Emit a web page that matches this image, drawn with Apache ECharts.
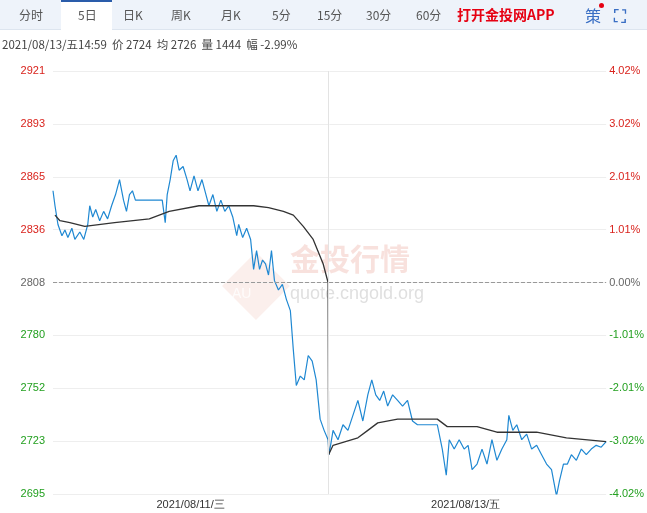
<!DOCTYPE html>
<html><head><meta charset="utf-8">
<script src="https://cdn.jsdelivr.net/npm/echarts@6/dist/echarts.min.js"></script>
<style>
body{margin:0;font-family:"Noto Sans CJK SC",sans-serif;}
#c{position:absolute;left:0;top:0;width:647px;height:513px;}
#bar{position:absolute;left:0;top:0;width:647px;height:29px;background:#eef3fa;border-bottom:1px solid #dde5ef;font-size:12px;color:#555;}
#bar span{position:absolute;top:6px;}
#sel{position:absolute;left:61px;top:0;width:51px;height:30px;background:#fff;border-top:2px solid #2a5caa;box-sizing:border-box;}
#info{position:absolute;left:2px;top:36px;font-size:11.5px;color:#444;}
</style></head><body>
<div id="c"></div>
<div id="bar"><div id="sel"></div>
<span style="left:19px">分时</span><span style="left:78px">5日</span><span style="left:123px">日K</span><span style="left:171px">周K</span><span style="left:221px">月K</span><span style="left:272px">5分</span><span style="left:317px">15分</span><span style="left:366px">30分</span><span style="left:416px">60分</span>
<span style="left:457px;top:4px;color:#e60012;font-weight:bold;font-size:14px">打开金投网APP</span>
<span style="left:585px;top:3px;color:#3a6fc4;font-size:16px">策</span><span style="left:599px;top:3px;width:5px;height:5px;border-radius:3px;background:#e60012"></span>
<span style="left:614px;top:2px;color:#3a6fc4;font-size:17px;font-weight:bold">⛶</span></div>
<div id="info">2021/08/13/五14:59 &nbsp;价 2724 &nbsp;均 2726 &nbsp;量 1444 &nbsp;幅 -2.99%</div>
<script>
const base = 2808;
const yTicks = [2695, 2723, 2752, 2780, 2808, 2836, 2865, 2893, 2921];
const dayLabels = ['2021/08/11/三', '2021/08/13/五'];
const priceT = [0,2,5,9,12,15,19,22,27,31,35,37,40,43,47,51,55,59,63,67,71,74,77,80,83,87,110,112,113,115,118,121,124,127,131,135,138,142,146,150,154,157,161,165,169,173,177,181,185,187,191,195,199,202,205,208,211,214,217,220,223,227,231,235,239,242,245,249,253,257,261,265,269,273,277,278,282,287,292,297,302,307,312,317,321,325,329,333,337,342,347,352,357,362,367,387,392,396,399,404,409,414,418,422,427,432,437,442,447,452,457,459,463,467,472,477,482,487,492,497,502,507,510,514,518,522,527,532,537,542,547,552,557];
const price = [2857,2849,2839,2833,2836,2832,2837,2831,2835,2831,2839,2849,2843,2847,2841,2846,2842,2849,2855,2863,2852,2846,2855,2857,2852,2852,2852,2844,2840,2855,2863,2873,2876,2868,2870,2863,2857,2865,2857,2863,2855,2849,2855,2846,2852,2846,2849,2843,2833,2839,2832,2837,2831,2815,2825,2815,2820,2818,2812,2825,2809,2804,2807,2799,2793,2772,2753,2758,2756,2769,2766,2756,2735,2729,2724,2716,2729,2724,2732,2729,2737,2745,2734,2748,2756,2748,2745,2750,2742,2748,2745,2742,2745,2734,2732,2732,2719,2705,2724,2719,2724,2719,2721,2708,2711,2719,2711,2724,2713,2719,2724,2737,2729,2732,2724,2727,2719,2721,2716,2711,2708,2694,2702,2711,2711,2716,2713,2719,2716,2719,2721,2720,2723];
const avgT = [2,7,17,32,62,97,117,147,182,202,217,232,242,252,262,272,277,277.5,282,307,317,327,347,387,397,427,447,487,517,557];
const avg = [2844,2841,2840,2838,2840,2842,2846,2849,2849,2849,2848,2846,2844,2838,2831,2818,2808,2716,2721,2725,2729,2733,2735,2735,2731,2731,2728,2728,2725,2723];
const pct = v => ((v - base) / base * 100).toFixed(2) + '%';
const col = v => v > base + 1 ? '#d9231d' : (v < base - 1 ? '#23a020' : '#666');
const chart = echarts.init(document.getElementById('c'));
const yCommon = {type:'value',min:2695,max:2921,interval:28.25,axisLine:{show:false},axisTick:{show:false}};
chart.setOption({
  animation:false,
  grid:{left:53,right:37,top:71,bottom:19},
  xAxis:{type:'value',min:0,max:557,interval:138.5,axisLine:{show:false},axisTick:{show:false},splitLine:{show:false},
    axisLabel:{color:'#333',fontSize:11,margin:5,formatter:v=>Math.abs(v-138.5)<1?dayLabels[0]:(Math.abs(v-415.5)<1?dayLabels[1]:''),showMinLabel:false,showMaxLabel:false}},
  yAxis:[Object.assign({},yCommon,{position:'left',splitLine:{lineStyle:{color:'#eeeeee'}},
      axisLabel:{fontSize:11,margin:8,formatter:v=>String(yTicks.reduce((a,b)=>Math.abs(b-v)<Math.abs(a-v)?b:a)),color:v=>col(v)}}),
    Object.assign({},yCommon,{position:'right',splitLine:{show:false},axisLabel:{fontSize:11,margin:3,formatter:v=>pct(v),color:v=>col(v)}})],
  graphic:[
    {type:'text',left:290,top:244,style:{text:'金投行情',fill:'rgba(225,120,100,0.22)',font:'bold 30px "Noto Sans CJK SC"'}},
    {type:'text',left:290,top:285,style:{text:'quote.cngold.org',fill:'rgba(150,150,150,0.3)',font:'18px sans-serif'}},
    {type:'rect',left:222,top:252,rotation:Math.PI/4,shape:{width:48,height:48},style:{fill:'rgba(225,120,100,0.12)'}},
    {type:'text',left:232,top:287,style:{text:'AU',fill:'rgba(255,255,255,0.8)',font:'14px sans-serif'}}
  ],
  series:[
    {type:'line',data:priceT.map((t,i)=>[t,price[i]]),symbol:'none',lineStyle:{color:'#1f88d2',width:1.2},
     markLine:{silent:true,symbol:'none',label:{show:false},data:[
       {yAxis:base,lineStyle:{color:'#999',type:'dashed',width:1}},
       {xAxis:277,lineStyle:{color:'#e3e3e3',type:'solid',width:1}}]}},
    {type:'line',data:avgT.map((t,i)=>[t,avg[i]]),symbol:'none',lineStyle:{color:'#333',width:1.3}}
  ]
});
</script></body></html>
